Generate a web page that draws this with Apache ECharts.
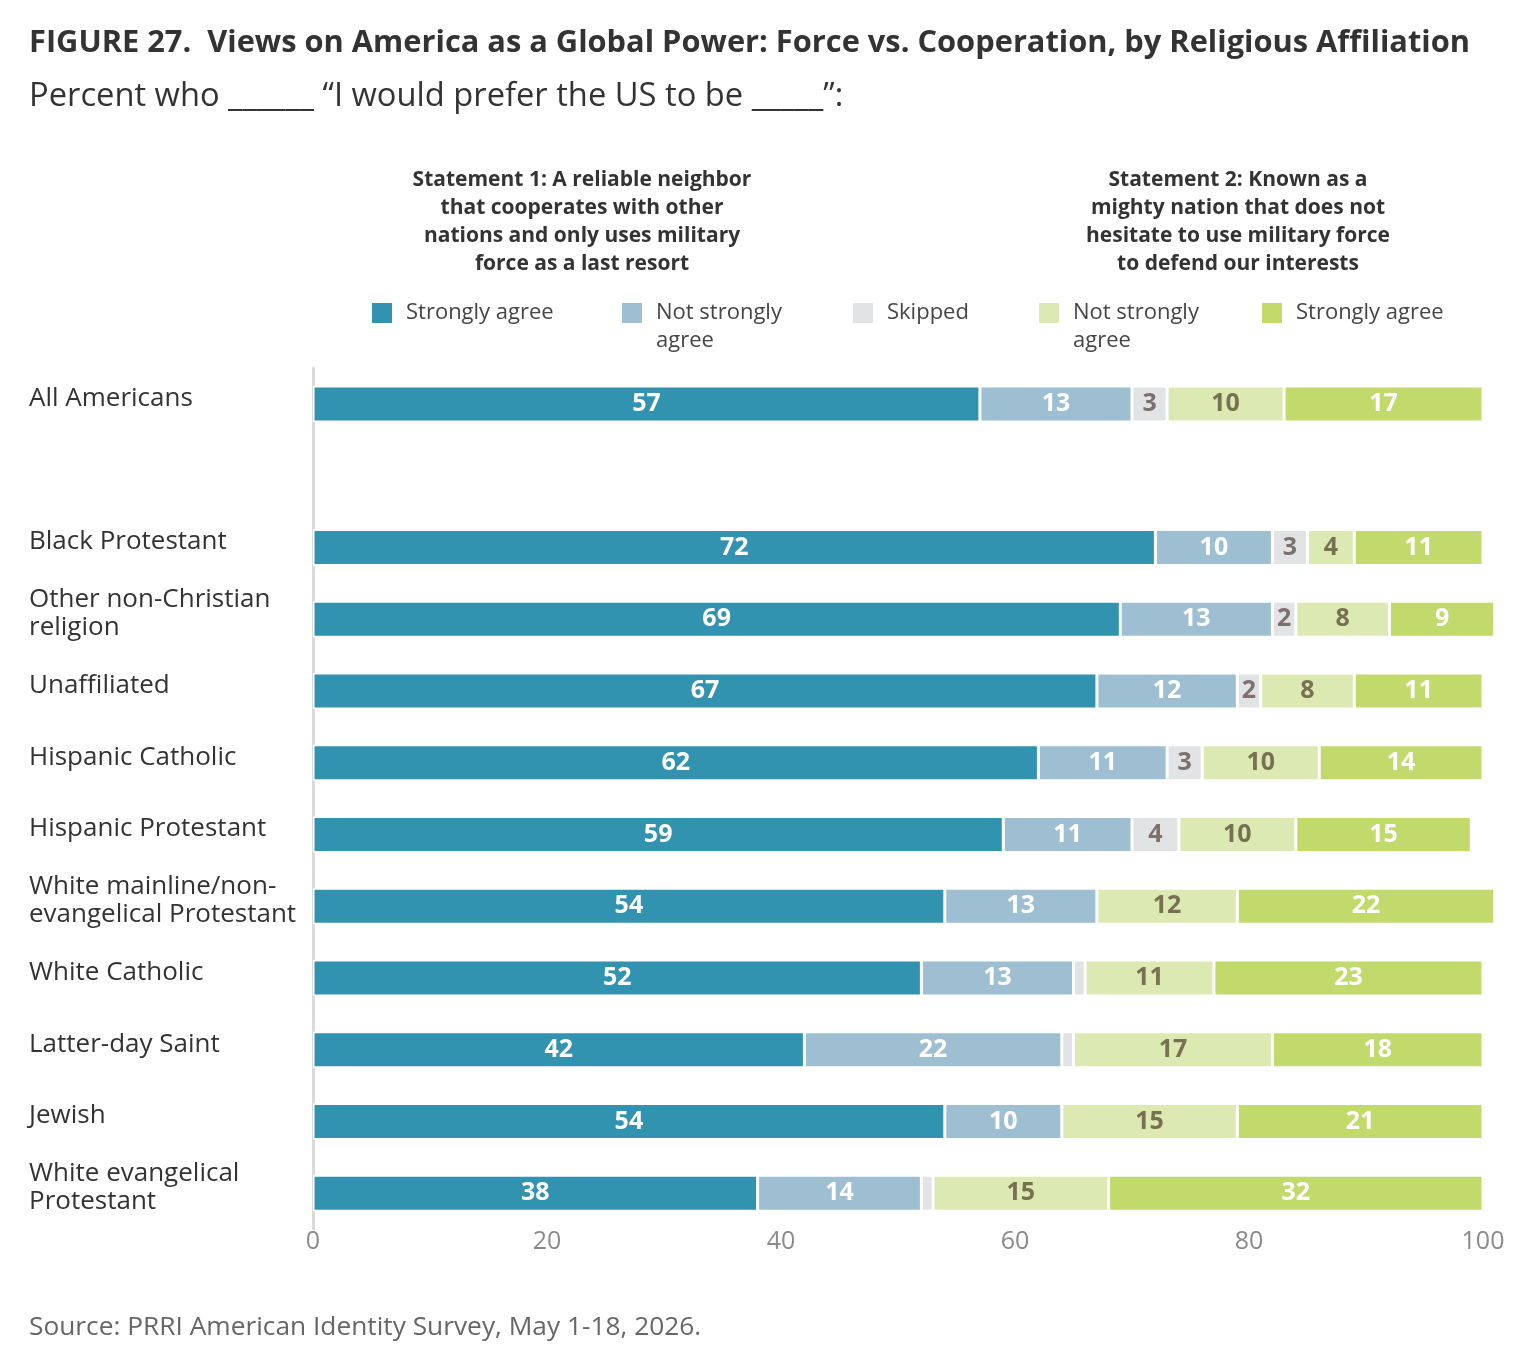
<!DOCTYPE html>
<html>
<head>
<meta charset="utf-8">
<script src="https://cdn.jsdelivr.net/npm/echarts@6/dist/echarts.min.js"></script>
<style>
html,body{margin:0;padding:0;background:#fff;}
#chart{width:1536px;height:1364px;}
</style>
</head>
<body>
<div id="chart"></div>
<script>
const categories = [
  'All Americans', '', 'Black Protestant', 'Other non-Christian\nreligion', 'Unaffiliated',
  'Hispanic Catholic', 'Hispanic Protestant', 'White mainline/non-\nevangelical Protestant',
  'White Catholic', 'Latter-day Saint', 'Jewish', 'White evangelical\nProtestant'
];
const s1Strongly    = [57, null, 72, 69, 67, 62, 59, 54, 52, 42, 54, 38];
const s1NotStrongly = [13, null, 10, 13, 12, 11, 11, 13, 13, 22, 10, 14];
const skipped       = [3,  null, 3,  2,  2,  3,  4,  0,  1,  1,  0,  1];
const s2NotStrongly = [10, null, 4,  8,  8,  10, 10, 12, 11, 17, 15, 15];
const s2Strongly    = [17, null, 11, 9,  11, 14, 15, 22, 23, 18, 21, 32];
const xTicks = [0, 20, 40, 60, 80, 100];

const seriesNames = ['S1 Strongly agree', 'S1 Not strongly agree', 'Skipped', 'S2 Not strongly agree', 'S2 Strongly agree'];
const legendText = {
  'S1 Strongly agree': 'Strongly agree',
  'S1 Not strongly agree': ' \nNot strongly\nagree',
  'Skipped': 'Skipped',
  'S2 Not strongly agree': ' \nNot strongly\nagree',
  'S2 Strongly agree': 'Strongly agree'
};
const colors = ['#3293b0', '#9ebfd1', '#e2e3e5', '#dde9b3', '#c2d96c'];
const labelColors = ['#ffffff', '#ffffff', '#7b726e', '#76714f', '#ffffff'];
const dataSets = [s1Strongly, s1NotStrongly, skipped, s2NotStrongly, s2Strongly];
const minLabel = [1, 1, 2, 1, 1];

const FONT = '"Open Sans", "Noto Sans", sans-serif';

const chart = echarts.init(document.getElementById('chart'), null, {renderer: 'canvas'});

const series = seriesNames.map((name, i) => ({
  name: name,
  type: 'bar',
  stack: 'total',
  barWidth: 36,
  clip: false,
  data: dataSets[i],
  itemStyle: {color: colors[i], borderColor: '#ffffff', borderWidth: 1.5},
  label: {
    show: true,
    position: 'inside',
    color: labelColors[i],
    fontFamily: FONT,
    fontWeight: 'bold',
    fontSize: 25,
    formatter: p => (p.value != null && p.value >= minLabel[i]) ? String(p.value) : ''
  },
  emphasis: {disabled: true},
  silent: true,
  animation: false
}));

const legendPos = [
  {left: 370, two: false},
  {left: 620, two: true},
  {left: 851, two: false},
  {left: 1037, two: true},
  {left: 1260, two: false}
];
const legends = seriesNames.map((name, i) => ({
  data: [name],
  left: legendPos[i].left,
  top: legendPos[i].two ? 271 : 299,
  padding: 0,
  icon: 'rect',
  itemWidth: 22,
  itemHeight: 22,
  selectedMode: false,
  formatter: n => legendText[n],
  textStyle: {
    fontFamily: FONT,
    fontSize: 22,
    color: '#454545',
    lineHeight: 28,
    padding: [0, 0, 0, 8]
  }
}));

const option = {
  backgroundColor: '#ffffff',
  animation: false,
  legend: legends,
  grid: {left: 313, right: 53, top: 368, height: 861, containLabel: false, outerBoundsMode: 'none'},
  xAxis: {
    type: 'value',
    min: 0, max: 100, interval: 20,
    axisLine: {show: false},
    axisTick: {show: false},
    splitLine: {show: false},
    axisLabel: {
      fontFamily: FONT, fontSize: 25, color: '#8a8a8a', margin: 0,
      formatter: v => xTicks.includes(v) ? String(v) : ''
    }
  },
  yAxis: {
    type: 'category',
    data: categories,
    inverse: true,
    axisLine: {show: true, lineStyle: {color: '#dadada', width: 3}},
    axisTick: {show: false},
    splitLine: {show: false},
    axisLabel: {
      align: 'left',
      margin: 284,
      formatter: v => v ? v.split('\n').map(l => '{a|' + l + '}').join('\n') + '\n{s| }' : '',
      rich: {
        a: {fontFamily: FONT, fontSize: 26, color: '#333333', lineHeight: 28},
        s: {fontFamily: FONT, fontSize: 8, lineHeight: 11}
      }
    }
  },
  graphic: [
    {type: 'text', left: 29, top: 28, style: {text: 'FIGURE 27.  Views on America as a Global Power: Force vs. Cooperation, by Religious Affiliation', fontFamily: FONT, fontWeight: 'bold', fontSize: 30.8, fill: '#333333'}},
    {type: 'text', left: 29, top: 80, style: {text: 'Percent who ______ \u201cI would prefer the US to be _____\u201d:', fontFamily: FONT, fontSize: 32.7, fill: '#333333'}},
    {type: 'text', x: 582, y: 166, style: {text: 'Statement 1: A reliable neighbor\nthat cooperates with other\nnations and only uses military\nforce as a last resort', fontFamily: FONT, fontWeight: 'bold', fontSize: 21, lineHeight: 28, fill: '#333333', align: 'center', verticalAlign: 'top'}},
    {type: 'text', x: 1238, y: 166, style: {text: 'Statement 2: Known as a\nmighty nation that does not\nhesitate to use military force\nto defend our interests', fontFamily: FONT, fontWeight: 'bold', fontSize: 21, lineHeight: 28, fill: '#333333', align: 'center', verticalAlign: 'top'}},
    {type: 'text', left: 29, top: 1315, style: {text: 'Source: PRRI American Identity Survey, May 1-18, 2026.', fontFamily: FONT, fontSize: 26.3, fill: '#666666'}}
  ],
  series: series
};
chart.setOption(option);
</script>
</body>
</html>
